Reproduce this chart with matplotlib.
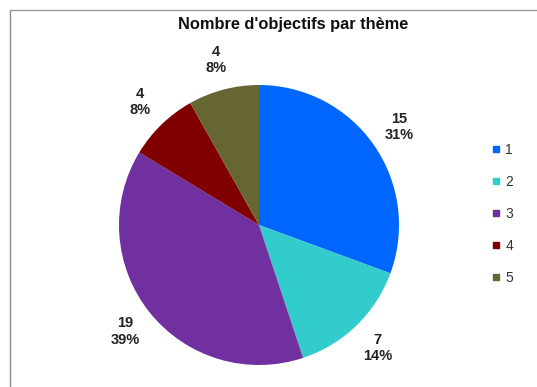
import matplotlib
matplotlib.use("Agg")
import matplotlib.pyplot as plt
from matplotlib.lines import Line2D

plt.rcParams['font.family'] = ['Liberation Sans', 'DejaVu Sans']

# data
themes = ['1', '2', '3', '4', '5']
counts = [15, 7, 19, 4, 4]
colours = ['#0066FF', '#33CCCC', '#7030A0', '#800000', '#666633']

total = sum(counts)
labels = [f"{c}\n{round(100 * c / total)}%" for c in counts]

W, H = 537, 387
fig = plt.figure(figsize=(W / 100, H / 100), dpi=100)
fig.patch.set_facecolor('white')

# pie centre at (259, 225) px from top-left, radius 140 px
cx, cy, r = 259, 225, 140
ax = fig.add_axes([(cx - r) / W, (H - cy - r) / H, 2 * r / W, 2 * r / H])

wedges, texts = ax.pie(counts, labels=labels, colors=colours, startangle=90,
                       counterclock=False, labeldistance=1.22,
                       wedgeprops=dict(linewidth=0))
for t in texts:
    t.set_ha('center')
    t.set_va('center')
    t.set_fontsize(10.5)
    t.set_fontweight('bold')
    t.set_color('#222222')
    t.set_linespacing(1.2)
ax.set_xlim(-1, 1)
ax.set_ylim(-1, 1)
ax.set_aspect('equal')
ax.axis('off')

fig.text(293 / W, 1 - 25 / H, "Nombre d'objectifs par thème", ha='center', va='center',
         fontsize=11.8, fontweight='bold', color='#111111')

handles = [Line2D([0], [0], marker='s', linestyle='none', markersize=5,
                  markerfacecolor=c, markeredgecolor=c) for c in colours]
fig.legend(handles, themes, loc='upper left', bbox_to_anchor=(485 / W, 1 - 136 / H),
           frameon=False, fontsize=10, handlelength=0.6, handletextpad=0.35,
           labelspacing=1.3, borderpad=0, labelcolor='#333333')

# chart frame (left and top edges visible)
fig.add_artist(Line2D([9.5 / W, 9.5 / W], [0, 1 - 10 / H], color='#8a8a8a', lw=1))
fig.add_artist(Line2D([9.5 / W, 1], [1 - 10 / H, 1 - 10 / H], color='#9a9a9a', lw=1))

fig.savefig('out.png', dpi=100)
